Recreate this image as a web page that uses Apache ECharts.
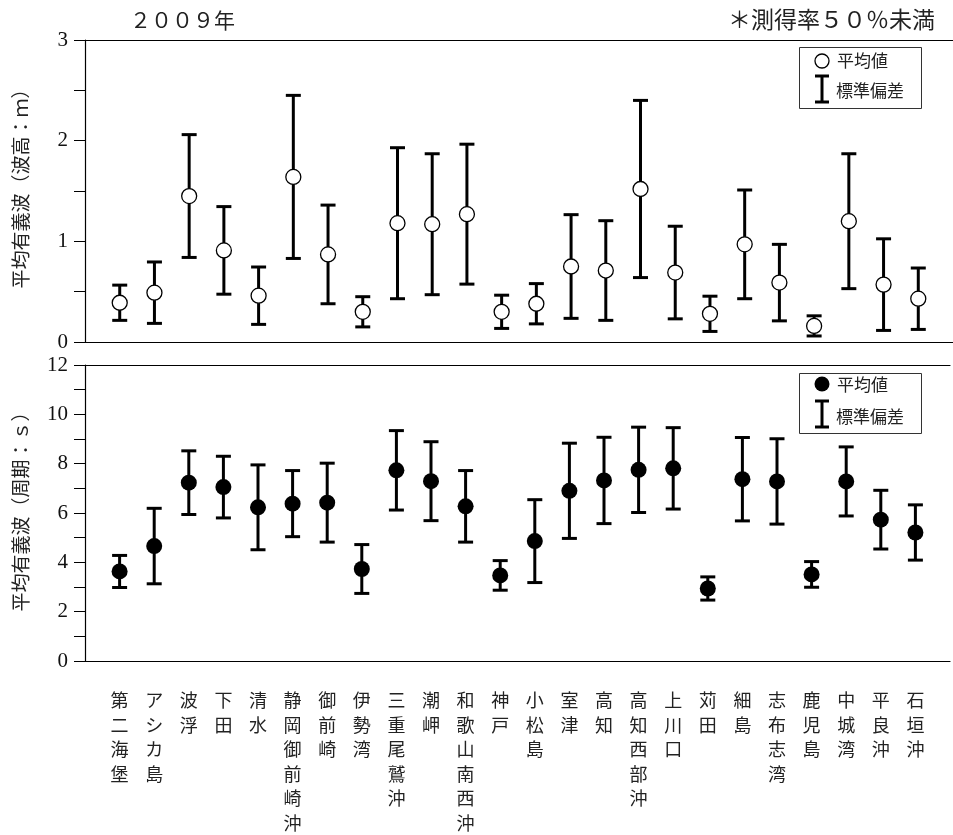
<!DOCTYPE html>
<html>
<head>
<meta charset="utf-8">
<script src="https://cdn.jsdelivr.net/npm/echarts@6/dist/echarts.min.js"></script>
<style>
html,body{margin:0;padding:0;background:#fff;}
#c{width:953px;height:835px;}
</style>
</head>
<body>
<div id="c"></div>
<script>
// ---- data ----
const stations = ['第二海堡','アシカ島','波浮','下田','清水','静岡御前崎沖','御前崎','伊勢湾','三重尾鷲沖','潮岬','和歌山南西沖','神戸','小松島','室津','高知','高知西部沖','上川口','苅田','細島','志布志湾','鹿児島','中城湾','平良沖','石垣沖'];
const heightMean = [0.39,0.49,1.45,0.91,0.46,1.64,0.87,0.30,1.18,1.17,1.27,0.30,0.38,0.75,0.71,1.52,0.69,0.28,0.97,0.59,0.16,1.20,0.57,0.43];
const heightSD   = [0.175,0.305,0.61,0.435,0.285,0.81,0.49,0.15,0.75,0.70,0.695,0.165,0.20,0.515,0.495,0.88,0.46,0.175,0.54,0.38,0.10,0.67,0.455,0.305];
const periodMean = [3.63,4.66,7.23,7.05,6.23,6.38,6.42,3.73,7.73,7.29,6.27,3.47,4.86,6.90,7.32,7.75,7.81,2.94,7.37,7.28,3.51,7.28,5.73,5.21];
const periodSD   = [0.65,1.53,1.29,1.25,1.72,1.34,1.60,0.99,1.61,1.60,1.45,0.60,1.68,1.93,1.75,1.73,1.65,0.47,1.69,1.73,0.52,1.40,1.19,1.12];
const heightTicks = [0,1,2,3];
const periodTicks = [0,2,4,6,8,10,12];
const yearLabel = '２００９年';
const noteLabel = '＊測得率５０％未満';
const heightTitle = '平均有義波（波高：ｍ）';
const periodTitle = '平均有義波（周期：ｓ）';
const legendMean = '平均値';
const legendSD = '標準偏差';

// ---- chart ----
const chart = echarts.init(document.getElementById('c'), null, {renderer:'canvas'});
const axisCats = [''].concat(stations, ['']);
const serifFont = "'Liberation Serif','DejaVu Serif',serif";
const cjkFont = "'Noto Sans CJK JP','Noto Sans CJK SC',sans-serif";

function errData(mean, sd){ return mean.map((m,i)=>[i+1, m-sd[i], m+sd[i]]); }
function meanData(mean){ return mean.map((m,i)=>[i+1, m]); }

function renderErr(params, api){
  const x = api.value(0);
  const top = api.coord([x, api.value(2)]);
  const bot = api.coord([x, api.value(1)]);
  const hw = 7.5;
  const st = {stroke:'#000', lineWidth:3};
  return {type:'group', children:[
    {type:'line', shape:{x1:top[0],y1:top[1],x2:bot[0],y2:bot[1]}, style:st},
    {type:'line', shape:{x1:top[0]-hw,y1:top[1],x2:top[0]+hw,y2:top[1]}, style:st},
    {type:'line', shape:{x1:bot[0]-hw,y1:bot[1],x2:bot[0]+hw,y2:bot[1]}, style:st}
  ]};
}

const lineStyle = {color:'#000', width:1.2};
function yAx(gi, ticks){
  const step = ticks[1]-ticks[0];
  return {
    type:'value', gridIndex:gi, min:ticks[0], max:ticks[ticks.length-1], interval:step,
    axisLine:{show:true, lineStyle:lineStyle},
    axisTick:{show:true, inside:false, length:11, lineStyle:{color:'#000', width:1}},
    minorTick:{show:true, splitNumber:2, length:11, lineStyle:{color:'#000', width:1}},
    splitLine:{show:false},
    axisLabel:{margin:17, fontFamily:serifFont, fontSize:21, color:'#111'}
  };
}
function xAx(gi, pos, labels){
  return {
    type:'category', gridIndex:gi, data:axisCats, boundaryGap:false, position:pos,
    axisLine:{show:true, onZero:false, lineStyle:lineStyle},
    axisTick:{show:false},
    axisLabel: labels ? {
      show:true, interval:0, margin:27, fontFamily:cjkFont, fontSize:18, lineHeight:24.5,
      color:'#222', verticalAlign:'top',
      formatter:(v)=>v.split('').join('\n')
    } : {show:false},
    splitLine:{show:false}
  };
}

const option = {
  backgroundColor:'#fff',
  animation:false,
  grid:[
    {left:85, right:0, top:40, height:302},
    {left:85, right:0, top:365, height:302}
  ],
  xAxis:[
    xAx(0,'bottom',false), xAx(0,'top',false),
    xAx(1,'bottom',true), xAx(1,'top',false)
  ],
  yAxis:[ yAx(0, heightTicks), yAx(1, periodTicks) ],
  series:[
    {type:'custom', xAxisIndex:0, yAxisIndex:0, renderItem:renderErr, data:errData(heightMean, heightSD), z:2, encode:{x:0, y:[1,2]}},
    {type:'scatter', xAxisIndex:0, yAxisIndex:0, data:meanData(heightMean), symbol:'circle', symbolSize:15,
      itemStyle:{color:'#fff', borderColor:'#000', borderWidth:1.3, opacity:1}, z:3},
    {type:'custom', xAxisIndex:2, yAxisIndex:1, renderItem:renderErr, data:errData(periodMean, periodSD), z:2, encode:{x:0, y:[1,2]}},
    {type:'scatter', xAxisIndex:2, yAxisIndex:1, data:meanData(periodMean), symbol:'circle', symbolSize:16,
      itemStyle:{color:'#000', opacity:1}, z:3}
  ],
  graphic:[
    {type:'text', left:130, top:10, style:{text:yearLabel, font:"21px "+cjkFont, fill:'#222'}},
    {type:'text', right:18, top:8, style:{text:noteLabel, font:"23px "+cjkFont, fill:'#222'}},
    {type:'text', x:21, y:184, rotation:Math.PI/2, style:{text:heightTitle, font:"19px "+cjkFont, fill:'#222', align:'center', verticalAlign:'middle'}},
    {type:'text', x:21, y:507, rotation:Math.PI/2, style:{text:periodTitle, font:"19px "+cjkFont, fill:'#222', align:'center', verticalAlign:'middle'}},
    // legend top
    {type:'rect', shape:{x:799.5, y:47.5, width:122, height:61}, style:{fill:'#fff', stroke:'#333', lineWidth:1}, z:10},
    {type:'circle', shape:{cx:822, cy:61, r:7}, style:{fill:'#fff', stroke:'#000', lineWidth:1.3}, z:11},
    {type:'text', x:837, y:61, style:{text:legendMean, font:"17px "+cjkFont, fill:'#222', verticalAlign:'middle'}, z:11},
    {type:'line', shape:{x1:822,y1:76,x2:822,y2:102}, style:{stroke:'#000', lineWidth:3}, z:11},
    {type:'line', shape:{x1:815,y1:76,x2:829,y2:76}, style:{stroke:'#000', lineWidth:3}, z:11},
    {type:'line', shape:{x1:815,y1:102,x2:829,y2:102}, style:{stroke:'#000', lineWidth:3}, z:11},
    {type:'text', x:836, y:91, style:{text:legendSD, font:"17px "+cjkFont, fill:'#222', verticalAlign:'middle'}, z:11},
    // legend bottom
    {type:'rect', shape:{x:799.5, y:373.5, width:122, height:60}, style:{fill:'#fff', stroke:'#333', lineWidth:1}, z:10},
    {type:'circle', shape:{cx:822, cy:384, r:7.5}, style:{fill:'#000'}, z:11},
    {type:'text', x:837, y:385, style:{text:legendMean, font:"17px "+cjkFont, fill:'#222', verticalAlign:'middle'}, z:11},
    {type:'line', shape:{x1:822,y1:401,x2:822,y2:427}, style:{stroke:'#000', lineWidth:3}, z:11},
    {type:'line', shape:{x1:815,y1:401,x2:829,y2:401}, style:{stroke:'#000', lineWidth:3}, z:11},
    {type:'line', shape:{x1:815,y1:427,x2:829,y2:427}, style:{stroke:'#000', lineWidth:3}, z:11},
    {type:'text', x:836, y:417, style:{text:legendSD, font:"17px "+cjkFont, fill:'#222', verticalAlign:'middle'}, z:11}
  ]
};
chart.setOption(option);
</script>
</body>
</html>
